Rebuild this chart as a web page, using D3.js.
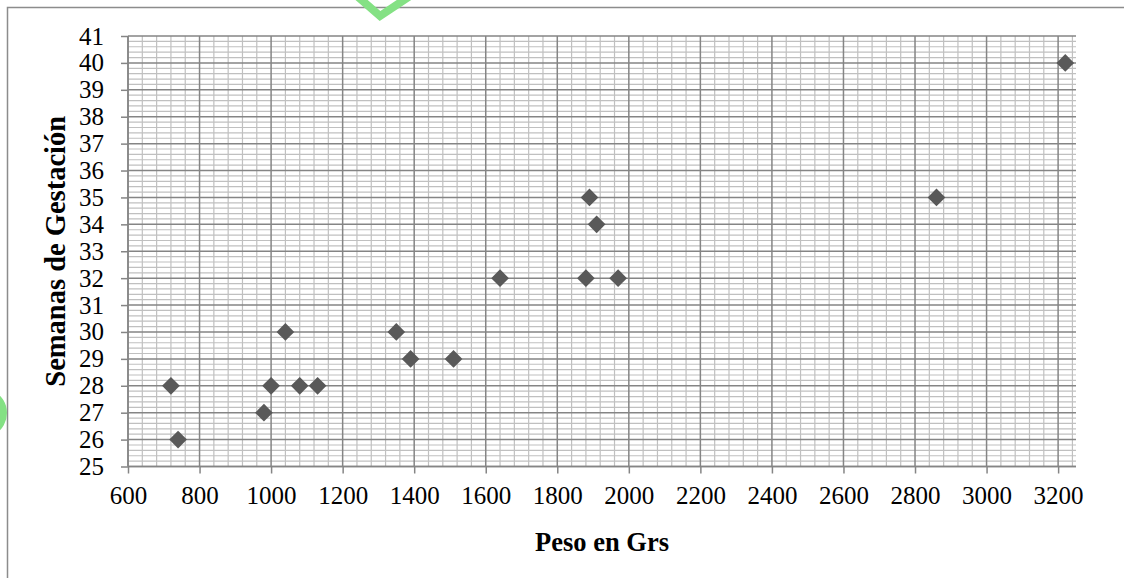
<!DOCTYPE html>
<html>
<head>
<meta charset="utf-8">
<script src="https://cdn.jsdelivr.net/npm/d3@7"></script>
<style>
html,body{margin:0;padding:0;background:#fff;}
svg{display:block;}
</style>
</head>
<body>
<svg id="chart" width="1124" height="578"></svg>
<script>
// Data
const pesoGrs = [720, 740, 980, 1000, 1040, 1080, 1130, 1350, 1390, 1510, 1640, 1880, 1890, 1910, 1970, 2860, 3220];
const semanas = [28, 26, 27, 28, 30, 28, 28, 30, 29, 29, 32, 32, 35, 34, 32, 35, 40];
const xTicks = [600, 800, 1000, 1200, 1400, 1600, 1800, 2000, 2200, 2400, 2600, 2800, 3000, 3200];
const yTicks = [25, 26, 27, 28, 29, 30, 31, 32, 33, 34, 35, 36, 37, 38, 39, 40, 41];
const xTitle = "Peso en Grs";
const yTitle = "Semanas de Gestación";

const svg = d3.select("#chart");
const pL = 128, pR = 1076, pT = 36, pB = 466.5;

const x = d3.scaleLinear().domain([600, 3250]).range([pL, pR]);
const y = d3.scaleLinear().domain([25, 41]).range([pB, pT]);

// outer border
svg.append("rect").attr("x", 7.5).attr("y", 7.5).attr("width", 1140).attr("height", 600)
  .attr("fill", "none").attr("stroke", "#8c8c8c").attr("stroke-width", 1.5);

// watermark fragments
const wm = svg.append("g").attr("fill", "none").attr("stroke", "#84e184").attr("stroke-width", 8);
wm.append("path").attr("d", "M357,-4 L380,16 L410,-4");
wm.append("path").attr("d", d3.arc()({innerRadius: 17, outerRadius: 25, startAngle: 0.5, endAngle: 2.6}))
  .attr("transform", "translate(-18,413)").attr("fill", "#84e184").attr("stroke", "none");

const grid = svg.append("g");
// minor grid
const minorX = d3.range(640, 3250, 40).filter(v => v % 200 !== 0);
const minorY = d3.range(25.2, 41, 0.2).filter(v => Math.abs(v - Math.round(v)) > 0.01);
grid.selectAll(".mx").data(minorX).join("line")
  .attr("x1", d => x(d)).attr("x2", d => x(d)).attr("y1", pT).attr("y2", pB)
  .attr("stroke", "#c0c0c0").attr("stroke-width", 1.2);
grid.selectAll(".my").data(minorY).join("line")
  .attr("x1", pL).attr("x2", pR).attr("y1", d => y(d)).attr("y2", d => y(d))
  .attr("stroke", "#c0c0c0").attr("stroke-width", 1.2);
// major grid
grid.selectAll(".Mx").data(xTicks).join("line")
  .attr("x1", d => x(d)).attr("x2", d => x(d)).attr("y1", pT).attr("y2", pB)
  .attr("stroke", "#858585").attr("stroke-width", 1.5);
grid.selectAll(".My").data(yTicks).join("line")
  .attr("x1", pL).attr("x2", pR).attr("y1", d => y(d)).attr("y2", d => y(d))
  .attr("stroke", "#858585").attr("stroke-width", 1.5);

// axes
const font = "'Liberation Serif','Times New Roman',serif";
const xAxis = d3.axisBottom(x).tickValues(xTicks).tickSize(7).tickPadding(13).tickFormat(d3.format("d"));
const gx = svg.append("g").attr("transform", `translate(0,${pB})`).call(xAxis);
const yAxis = d3.axisLeft(y).tickValues(yTicks).tickSize(7).tickPadding(17).tickFormat(d3.format("d"));
const gy = svg.append("g").attr("transform", `translate(${pL},0)`).call(yAxis);
[gx, gy].forEach(g => {
  g.select(".domain").attr("stroke", "#858585").attr("stroke-width", 1.5);
  g.selectAll(".tick line").attr("stroke", "#858585").attr("stroke-width", 1.5);
  g.selectAll("text").attr("fill", "#000").style("font-family", font).style("font-size", "25px");
});
gy.select(".domain").attr("d", `M0,${pB}V${pT}`);
gx.select(".domain").attr("d", `M${pL},0H${pR}`);

// markers
const diamond = d3.symbol().type(d3.symbolDiamond2).size(200);
svg.append("g").selectAll("path").data(pesoGrs.map((p, i) => [p, semanas[i]])).join("path")
  .attr("d", diamond)
  .attr("transform", d => `translate(${x(d[0])},${y(d[1])})`)
  .attr("fill", "#595959");

// titles
svg.append("text").attr("x", (pL + pR) / 2).attr("y", 551).attr("text-anchor", "middle")
  .style("font-family", font).style("font-size", "26.5px").style("font-weight", "bold").text(xTitle);
svg.append("text").attr("transform", `translate(65,${(pT + pB) / 2}) rotate(-90)`)
  .attr("text-anchor", "middle")
  .style("font-family", font).style("font-size", "28.5px").style("font-weight", "bold").text(yTitle);
</script>
</body>
</html>
